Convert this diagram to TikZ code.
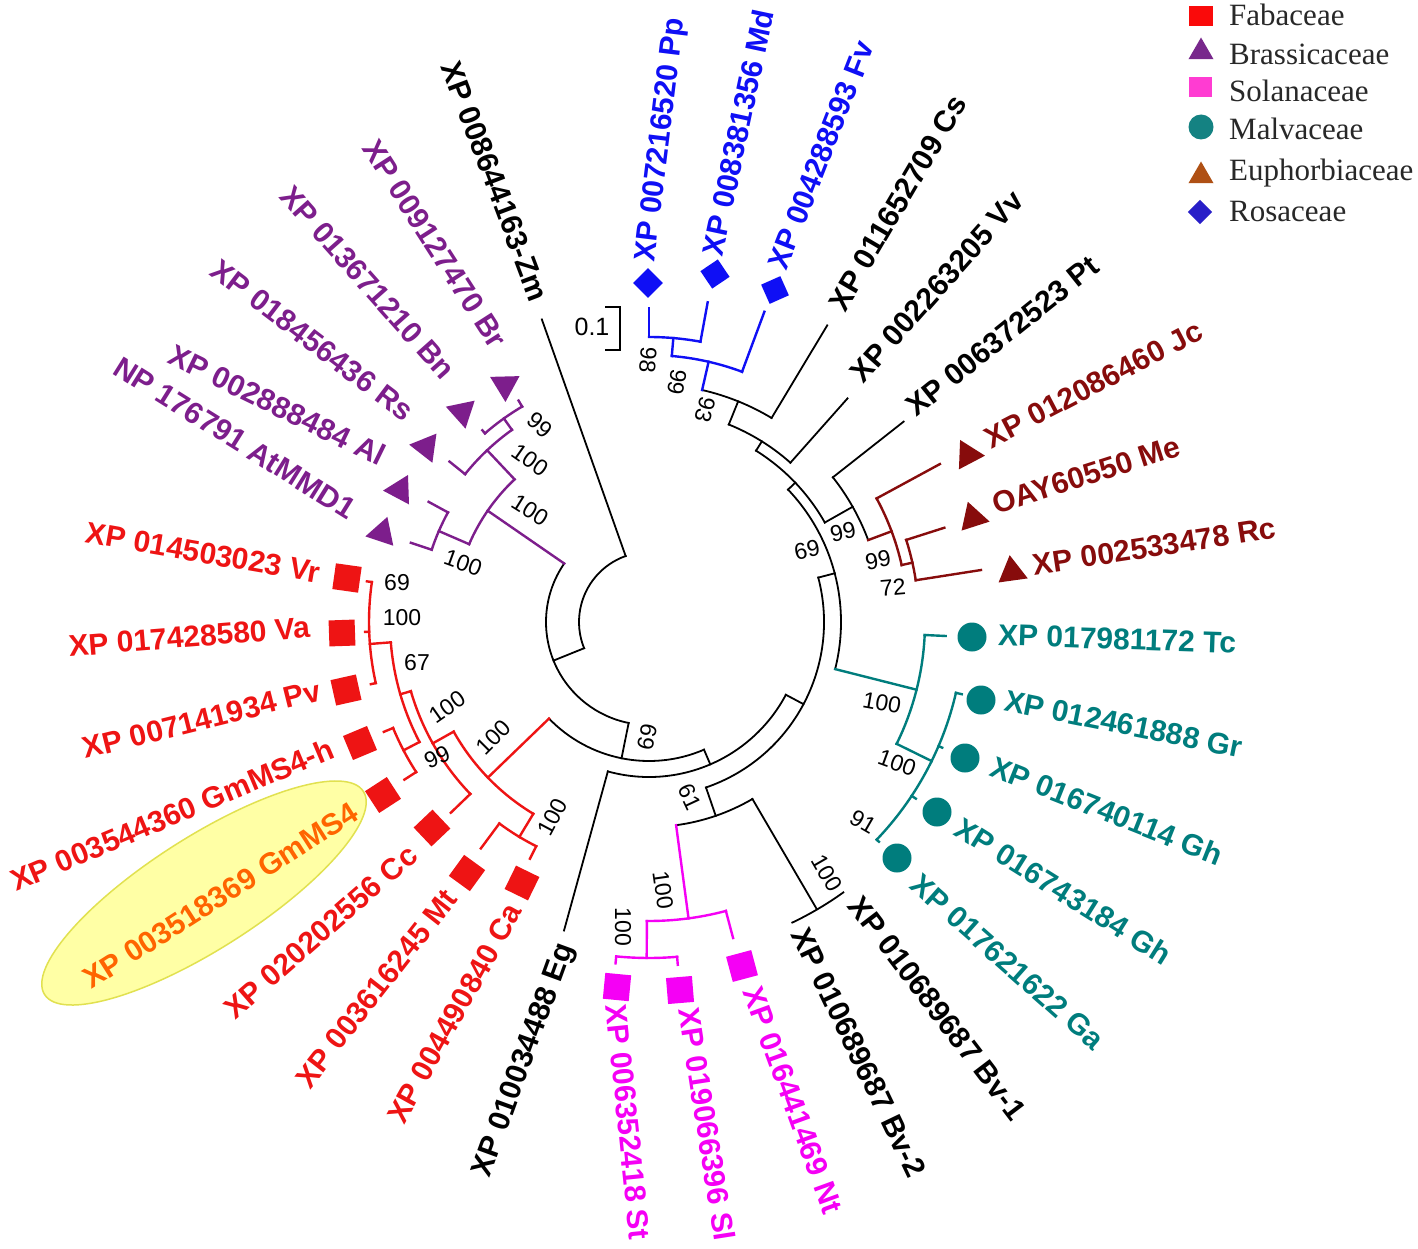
\documentclass[tikz,border=0pt]{standalone}
\usepackage{fontspec}
\setmainfont{Liberation Sans}
\newfontfamily\legfont{Liberation Serif}
\usetikzlibrary{shapes.geometric}
\definecolor{cPur}{RGB}{125,30,140}
\definecolor{cRed}{RGB}{238,20,20}
\definecolor{cBlue}{RGB}{15,15,245}
\definecolor{cDred}{RGB}{135,12,12}
\definecolor{cTeal}{RGB}{0,125,125}
\definecolor{cMag}{RGB}{245,0,245}
\definecolor{cOra}{RGB}{255,100,0}
\definecolor{cYel}{RGB}{255,255,165}
\definecolor{cYelB}{RGB}{225,225,80}
\definecolor{lRed}{RGB}{250,10,10}
\definecolor{lPur}{RGB}{120,40,140}
\definecolor{lPink}{RGB}{255,60,210}
\definecolor{lTeal}{RGB}{20,130,130}
\definecolor{lBrown}{RGB}{175,80,20}
\definecolor{lBlue}{RGB}{40,30,200}
\definecolor{lText}{RGB}{40,40,40}
\tikzset{
 leaf/.style={font=\bfseries\fontsize{30}{33}\selectfont, inner sep=0pt},
 boot/.style={font=\fontsize{23}{25}\selectfont, inner sep=0pt},
 tb/.style={line width=1.8pt, line cap=rect},
 tcol/.style={line width=2.4pt, line cap=rect, draw=#1},
 sqr/.style={rectangle, fill=#1, minimum size=26pt, inner sep=0pt},
 dia/.style={rectangle, fill=#1, minimum size=21pt, inner sep=0pt},
 dot/.style={circle, fill=#1, minimum size=29pt, inner sep=0pt},
 tri/.style={regular polygon, regular polygon sides=3, fill=#1, minimum size=34pt, inner sep=0pt},
 legtxt/.style={font=\legfont\fontsize{31}{33}\selectfont, text=lText, anchor=west, inner sep=0pt},
}
\newcommand\Rdl[4][tb]{\draw[#1] (#2:#3) -- (#2:#4);}
\newcommand\Arcl[4][tb]{\draw[#1] (#3:#2) arc[start angle=#3, end angle=#4, radius=#2];}
\begin{document}
\begin{tikzpicture}[x=1pt,y=1pt]
\useasboundingbox (0,0) rectangle (1418,-1249);
\fill[white] (0,0) rectangle (1418,-1249);
% highlight
\node[ellipse, fill=cYel, draw=cYelB, line width=1.5pt, minimum width=378pt, minimum height=112pt, rotate=32.5] (hl) at (204,-893) {};
% tree
\begin{scope}[shift={(649,-622)}]
% backbone
\Arcl{70}{109.5}{202}
\Rdl{109.5}{70}{321}
\Rdl{202}{70}{103}
\Arcl{103}{145.4}{258.6}
\Rdl{258.6}{103}{139}
\Arcl{139}{224}{293.3}
\Rdl{293.3}{139}{155}
\Arcl{155}{254.6}{332}
\Rdl{254.6}{155}{320}
\Rdl{332}{155}{175}
\Arcl{175}{289}{374.7}
\Rdl{289}{175}{205}
\Arcl{205}{277.6}{300.3}
\Rdl{300.3}{205}{332}
\Arcl{333}{295.5}{305.7}
\Rdl{14.7}{175}{192}
\Arcl{192}{-14.2}{43.6}
\Rdl{43.6}{192}{202}
\Arcl{202}{29.5}{58}
\Rdl{29.5}{202}{234}
\Arcl{234}{20.5}{38.2}
\Rdl{38.2}{234}{324}
\Rdl{58}{202}{213}
\Arcl{213}{48.4}{68}
\Rdl{48.4}{213}{299}
\Rdl{68}{213}{238}
\Arcl{238}{59}{77.1}
\Rdl{59}{238}{346}
% blue
\Rdl[tcol=cBlue]{77.1}{238}{267}
\Arcl[tcol=cBlue]{267}{69.6}{85.1}
\Rdl[tcol=cBlue]{69.6}{267}{331}
\Rdl[tcol=cBlue]{85.1}{267}{285}
\Arcl[tcol=cBlue]{285}{79.6}{90}
\Rdl[tcol=cBlue]{90}{285}{314}
\Rdl[tcol=cBlue]{79.6}{285}{325}
% euphorbiaceae
\Rdl[tcol=cDred]{20.5}{234}{259}
\Arcl[tcol=cDred]{259}{12.7}{28.5}
\Rdl[tcol=cDred]{28.5}{259}{331}
\Rdl[tcol=cDred]{12.7}{259}{270}
\Arcl[tcol=cDred]{270}{8.9}{17.7}
\Rdl[tcol=cDred]{17.7}{270}{310}
\Rdl[tcol=cDred]{8.9}{270}{336}
% malvaceae
\Rdl[tcol=cTeal]{-14.2}{192}{276}
\Arcl[tcol=cTeal]{276}{-26.2}{-2.7}
\Rdl[tcol=cTeal]{-2.7}{276}{297}
\Rdl[tcol=cTeal]{-26.2}{276}{315}
\Arcl[tcol=cTeal]{315}{-43.7}{-13}
\Rdl[tcol=cTeal]{-13}{315}{321}
\Rdl[tcol=cTeal]{-23.2}{315}{319}
\Rdl[tcol=cTeal]{-33.5}{315}{320}
\Rdl[tcol=cTeal]{-43.7}{315}{318}
% solanaceae
\Rdl[tcol=cMag]{-82.4}{205}{299}
\Arcl[tcol=cMag]{299}{-90.4}{-75.1}
\Rdl[tcol=cMag]{-75.1}{299}{327}
\Rdl[tcol=cMag]{-90.4}{299}{336}
\Arcl[tcol=cMag]{336}{-95.6}{-85.2}
\Rdl[tcol=cMag]{-95.6}{336}{343}
\Rdl[tcol=cMag]{-85.2}{336}{344}
% fabaceae
\Rdl[tcol=cRed]{224}{139}{224}
\Arcl[tcol=cRed]{224}{209.3}{238.9}
\Rdl[tcol=cRed]{238.9}{224}{251}
\Arcl[tcol=cRed]{251}{233.4}{243.3}
\Rdl[tcol=cRed]{233.4}{251}{282}
\Rdl[tcol=cRed]{243.3}{251}{265}
\Rdl[tcol=cRed]{209.3}{224}{248}
\Arcl[tcol=cRed]{248}{196.2}{223.9}
\Rdl[tcol=cRed]{223.9}{248}{275}
\Rdl[tcol=cRed]{196.2}{248}{259}
\Arcl[tcol=cRed]{259}{184.5}{207.6}
\Rdl[tcol=cRed]{207.6}{259}{277}
\Arcl[tcol=cRed]{277}{202.5}{212.8}
\Rdl[tcol=cRed]{202.5}{277}{287}
\Rdl[tcol=cRed]{212.8}{277}{291}
\Rdl[tcol=cRed]{184.5}{259}{280}
\Arcl[tcol=cRed]{280}{171.8}{192.6}
\Rdl[tcol=cRed]{171.8}{280}{285}
\Rdl[tcol=cRed]{182}{280}{284}
\Rdl[tcol=cRed]{192.6}{280}{285}
% brassicaceae
\Rdl[tcol=cPur]{145.4}{103}{196}
\Arcl[tcol=cPur]{196}{133.3}{156.6}
\Rdl[tcol=cPur]{156.6}{196}{229}
\Arcl[tcol=cPur]{229}{151.4}{161.6}
\Rdl[tcol=cPur]{151.4}{229}{251}
\Rdl[tcol=cPur]{161.6}{229}{251}
\Rdl[tcol=cPur]{133.3}{196}{236}
\Arcl[tcol=cPur]{236}{125.5}{141.2}
\Rdl[tcol=cPur]{141.2}{236}{256}
\Rdl[tcol=cPur]{125.5}{236}{250}
\Arcl[tcol=cPur]{250}{120.5}{131}
\Rdl[tcol=cPur]{120.5}{250}{257}
\Rdl[tcol=cPur]{131}{250}{254}
\end{scope}
% scale bar
\draw[line width=1.8pt] (605,-307) -- (620,-307) -- (620,-350) -- (605,-350);
\node[boot, font=\fontsize{25}{27}\selectfont] (scale) at (592,-327) {0.1};
% symbols
\node[dia=cBlue, rotate=45] (sPp) at (648,-283) {};
\node[dia=cBlue, rotate=34] (sMd) at (715,-274) {};
\node[dia=cBlue, rotate=24] (sFv) at (775,-290) {};
\node[tri=cDred, rotate=27.7] (sJc) at (968,-455) {};
\node[tri=cDred, rotate=17.8] (sMe) at (973,-518) {};
\node[tri=cDred, rotate=7.9] (sRc) at (1012,-572) {};
\node[dot=cTeal] (sTc) at (972,-637) {};
\node[dot=cTeal] (sGr) at (981,-700) {};
\node[dot=cTeal] (sGh1) at (965,-758) {};
\node[dot=cTeal] (sGh2) at (937,-812) {};
\node[dot=cTeal] (sGa) at (897,-858) {};
\node[sqr=cMag, rotate=-75] (sNt) at (742,-966) {};
\node[sqr=cMag, rotate=-85.3] (sSl) at (680,-990) {};
\node[sqr=cMag, rotate=-95.5] (sSt) at (617,-987) {};
\node[sqr=cRed, rotate=64] (sCa) at (522,-883) {};
\node[sqr=cRed, rotate=54] (sMt) at (467,-873) {};
\node[sqr=cRed, rotate=43.5] (sCc) at (432,-828) {};
\node[sqr=cRed, rotate=33] (sGm) at (383,-795) {};
\node[sqr=cRed, rotate=22.7] (sGmh) at (360,-743) {};
\node[sqr=cRed, rotate=12.6] (sPv) at (346,-690) {};
\node[sqr=cRed, rotate=2] (sVa) at (342,-633) {};
\node[sqr=cRed, rotate=-8] (sVr) at (347,-578) {};
\node[tri=cPur, rotate=221.6] (sAt) at (382,-533) {};
\node[tri=cPur, rotate=212] (sAl) at (400,-490) {};
\node[tri=cPur, rotate=202] (sRs) at (426,-447) {};
\node[tri=cPur, rotate=191.8] (sBn) at (462,-412) {};
\node[tri=cPur, rotate=181.5] (sBr) at (505,-385) {};
% leaf labels, right side
\node[leaf, text=cBlue, anchor=west, rotate=83] (lPp) at (647,-262) {XP 007216520 Pp};
\node[leaf, text=cBlue, anchor=west, rotate=78] (lMd) at (712,-255) {XP 008381356 Md};
\node[leaf, text=cBlue, anchor=west, rotate=68.6] (lFv) at (777,-268) {XP 004288593 Fv};
\node[leaf, anchor=west, rotate=59.6] (lCs) at (836,-308) {XP 011652709 Cs};
\node[leaf, anchor=west, rotate=48.5] (lVv) at (856,-378) {XP 002263205 Vv};
\node[leaf, anchor=west, rotate=38.7] (lPt) at (910,-410) {XP 006372523 Pt};
\node[leaf, text=cDred, anchor=west, rotate=27.6] (lJc) at (987,-440) {XP 012086460 Jc};
\node[leaf, text=cDred, anchor=west, rotate=17.8] (lMe) at (993,-505) {OAY60550 Me};
\node[leaf, text=cDred, anchor=west, rotate=8.7] (lRc) at (1033,-565) {XP 002533478 Rc};
\node[leaf, text=cTeal, anchor=west, rotate=-1.9] (lTc) at (998,-635) {XP 017981172 Tc};
\node[leaf, text=cTeal, anchor=west, rotate=-11.4] (lGr) at (1005,-700) {XP 012461888 Gr};
\node[leaf, text=cTeal, anchor=west, rotate=-21.7] (lGh1) at (992,-765) {XP 016740114 Gh};
\node[leaf, text=cTeal, anchor=west, rotate=-32.1] (lGh2) at (958,-825) {XP 016743184 Gh};
\node[leaf, text=cTeal, anchor=west, rotate=-41.5] (lGa) at (915,-880) {XP 017621622 Ga};
\node[leaf, anchor=west, rotate=-52.7] (lBv1) at (855,-900) {XP 010689687 Bv-1};
\node[leaf, anchor=west, rotate=-64.4] (lBv2) at (800,-930) {XP 010689687 Bv-2};
\node[leaf, text=cMag, anchor=west, rotate=-70] (lNt) at (752,-988) {XP 016441469 Nt};
\node[leaf, text=cMag, anchor=west, rotate=-81.2] (lSl) at (689,-1008) {XP 019066396 Sl};
\node[leaf, text=cMag, anchor=west, rotate=-84.2] (lSt) at (616,-1004) {XP 006352418 St};
% leaf labels, left side
\node[leaf, anchor=east, rotate=70] (lEg) at (567,-945) {XP 010034488 Eg};
\node[leaf, text=cRed, anchor=east, rotate=61] (lCa) at (514,-906) {XP 004490840 Ca};
\node[leaf, text=cRed, anchor=east, rotate=52] (lMt) at (451,-893) {XP 003616245 Mt};
\node[leaf, text=cRed, anchor=east, rotate=41.2] (lCc) at (413,-851) {XP 020202556 Cc};
\node[leaf, text=cOra, anchor=east, rotate=32.5] (lGm) at (355,-810) {XP 003518369 GmMS4};
\node[leaf, text=cRed, anchor=east, rotate=22.9] (lGmh) at (332,-747) {XP 003544360 GmMS4-h};
\node[leaf, text=cRed, anchor=east, rotate=14] (lPv) at (320,-690) {XP 007141934 Pv};
\node[leaf, text=cRed, anchor=east, rotate=4.6] (lVa) at (310,-627) {XP 017428580 Va};
\node[leaf, text=cRed, anchor=east, rotate=-9.9] (lVr) at (320,-573) {XP 014503023 Vr};
\node[leaf, text=cPur, anchor=east, rotate=-32] (lAt) at (353,-512) {NP 176791 AtMMD1};
\node[leaf, text=cPur, anchor=east, rotate=-26] (lAl) at (384,-457) {XP 002888484 Al};
\node[leaf, text=cPur, anchor=east, rotate=-37.3] (lRs) at (410,-415) {XP 018456436 Rs};
\node[leaf, text=cPur, anchor=east, rotate=-48.4] (lBn) at (450,-375) {XP 013671210 Bn};
\node[leaf, text=cPur, anchor=east, rotate=-57.3] (lBr) at (500,-345) {XP 009127470 Br};
\node[leaf, anchor=east, rotate=-69.3] (lZm) at (540,-300) {XP 008644163-Zm};
% bootstrap values
\node[boot, rotate=-95] (b1) at (648,-360) {98};
\node[boot, rotate=-100] (b2) at (677,-382) {99};
\node[boot, rotate=-105] (b3) at (705,-410) {93};
\node[boot, rotate=12] (b4) at (843,-532) {99};
\node[boot, rotate=12] (b5) at (807,-550) {69};
\node[boot, rotate=10] (b6) at (878,-560) {99};
\node[boot, rotate=5] (b7) at (893,-587) {72};
\node[boot, rotate=-10] (b8) at (882,-703) {100};
\node[boot, rotate=-20] (b9) at (897,-763) {100};
\node[boot, rotate=-30] (b10) at (863,-822) {91};
\node[boot, rotate=-60] (b11) at (827,-873) {100};
\node[boot, rotate=-65] (b12) at (690,-797) {61};
\node[boot, rotate=-82] (b13) at (663,-890) {100};
\node[boot, rotate=-90] (b14) at (623,-927) {100};
\node[boot, rotate=78] (b15) at (647,-737) {69};
\node[boot, rotate=62] (b16) at (553,-817) {100};
\node[boot, rotate=45] (b17) at (493,-737) {100};
\node[boot, rotate=35] (b18) at (447,-707) {100};
\node[boot, rotate=25] (b19) at (437,-757) {99};
\node[boot] (b20) at (417,-663) {67};
\node[boot] (b21) at (402,-618) {100};
\node[boot] (b22) at (397,-583) {69};
\node[boot, rotate=-40] (b23) at (540,-425) {99};
\node[boot, rotate=-35] (b24) at (530,-460) {100};
\node[boot, rotate=-32] (b25) at (530,-510) {100};
\node[boot, rotate=-20] (b26) at (463,-563) {100};
% legend
\node[rectangle, fill=lRed, minimum width=24pt, minimum height=20pt, inner sep=0pt] (g1) at (1201,-16) {};
\node[legtxt] (t1) at (1229,-15) {Fabaceae};
\node[regular polygon, regular polygon sides=3, fill=lPur, minimum size=29pt, inner sep=0pt] (g2) at (1201,-52) {};
\node[legtxt] (t2) at (1229,-54) {Brassicaceae};
\node[rectangle, fill=lPink, minimum width=23pt, minimum height=20pt, inner sep=0pt] (g3) at (1200,-87) {};
\node[legtxt] (t3) at (1229,-91) {Solanaceae};
\node[circle, fill=lTeal, minimum size=25pt, inner sep=0pt] (g4) at (1201,-127) {};
\node[legtxt] (t4) at (1229,-129) {Malvaceae};
\node[regular polygon, regular polygon sides=3, fill=lBrown, minimum size=29pt, inner sep=0pt] (g5) at (1201,-176) {};
\node[legtxt] (t5) at (1229,-173) {Euphorbiaceae};
\node[rectangle, fill=lBlue, minimum size=17pt, inner sep=0pt, rotate=45] (g6) at (1200,-212) {};
\node[legtxt] (t6) at (1229,-212) {Rosaceae};
\end{tikzpicture}
\end{document}
